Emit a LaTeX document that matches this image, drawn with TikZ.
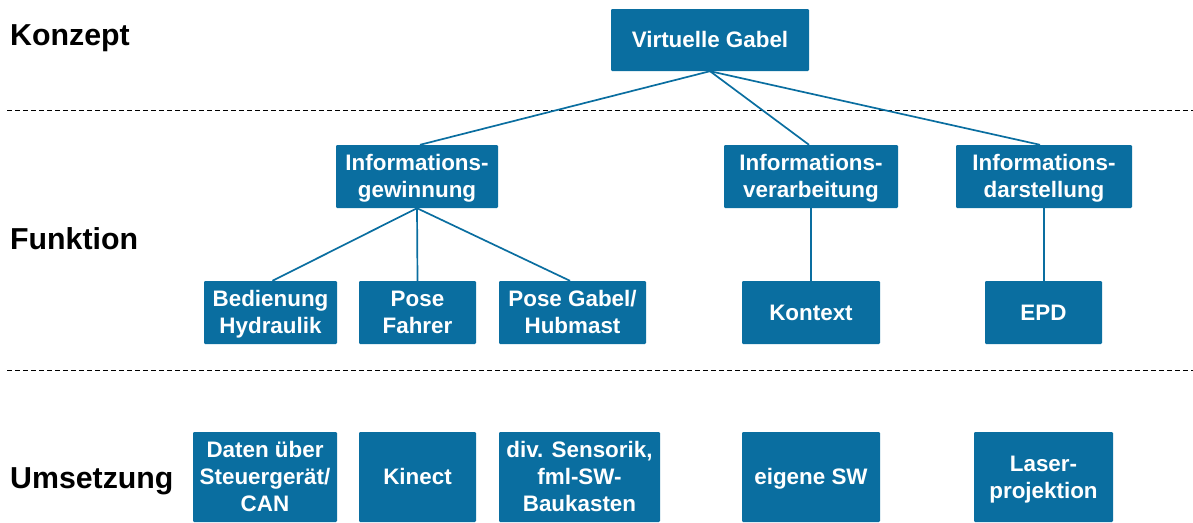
\documentclass[tikz,border=0pt]{standalone}
\usepackage{fontspec}
\setmainfont{Liberation Sans}
\definecolor{boxblue}{HTML}{0A6EA0}
\newcommand{\linestrut}{\rule[-6pt]{0pt}{27pt}}
\newcommand{\pxbox}[6]{\node[boxstyle,minimum width=#4 pt-#2 pt,minimum height=#5 pt-#3 pt] (#1) at ({(#2+#4)/2 pt},{-(#3+#5)/2 pt}) {\linestrut#6\linestrut};}
\tikzset{x=1pt,y=1pt,
 boxstyle/.style={fill=boxblue,draw=none,rounded corners=1.2pt,text=white,font=\fontsize{22.4}{27}\selectfont\bfseries,align=center,inner sep=0pt},
 head/.style={anchor=base west,font=\fontsize{30.3}{34}\selectfont\bfseries,inner sep=0pt,text=black},
 linkline/.style={draw=boxblue,line width=1.7pt},
 sep/.style={draw=black,dash pattern=on 5pt off 3pt,line width=1pt}}
\begin{document}
\begin{tikzpicture}
\useasboundingbox (0,0) rectangle (1193,-522);
\clip (0,0) rectangle (1193,-522);
\coordinate (d1a) at (7,-110); \coordinate (d1b) at (1193,-110);
\coordinate (d2a) at (7,-370); \coordinate (d2b) at (1193,-370);
\draw[sep] (d1a) -- (d1b);
\draw[sep] (d2a) -- (d2b);
\pxbox{vg}{611}{9}{809}{71}{Virtuelle Gabel}
\pxbox{ig}{336}{145}{498}{208}{Informations-\\gewinnung}
\pxbox{iv}{724}{145}{898}{208}{Informations-\\verarbeitung}
\pxbox{id}{956}{145}{1132}{208}{Informations-\\darstellung}
\pxbox{bh}{204}{281}{337}{344}{Bedienung\\Hydraulik}
\pxbox{pf}{359}{281}{476}{344}{Pose\\Fahrer}
\pxbox{pg}{499}{281}{646}{344}{Pose Gabel/\\Hubmast}
\pxbox{ko}{742}{281}{880}{344}{Kontext}
\pxbox{ep}{985}{281}{1102}{344}{EPD}
\pxbox{ds}{193}{432}{337}{522}{Daten über\\Steuergerät/\\CAN}
\pxbox{ki}{359}{432}{476}{522}{Kinect}
\pxbox{se}{499}{432}{660}{522}{div. Sensorik,\\fml-SW-\\Baukasten}
\pxbox{es}{742}{432}{880}{522}{eigene SW}
\pxbox{la}{974}{432}{1113}{522}{Laser-\\projektion}
\draw[linkline] (vg.south) -- ([xshift=3pt]ig.north);
\draw[linkline] (vg.south) -- ([xshift=-2pt]iv.north);
\draw[linkline] (vg.south) -- ([xshift=-4pt]id.north);
\draw[linkline] (ig.south) -- ([xshift=2pt]bh.north);
\draw[linkline] (ig.south) -- (pf.north);
\draw[linkline] (ig.south) -- ([xshift=-2.5pt]pg.north);
\draw[linkline] (iv.south) -- (ko.north);
\draw[linkline] (id.south) -- ([xshift=0.5pt]ep.north);
\node[head] (h1) at (10,-45) {Konzept};
\node[head] (h2) at (10,-249) {Funktion};
\node[head] (h3) at (10,-488) {Umsetzung};
\end{tikzpicture}
\end{document}
